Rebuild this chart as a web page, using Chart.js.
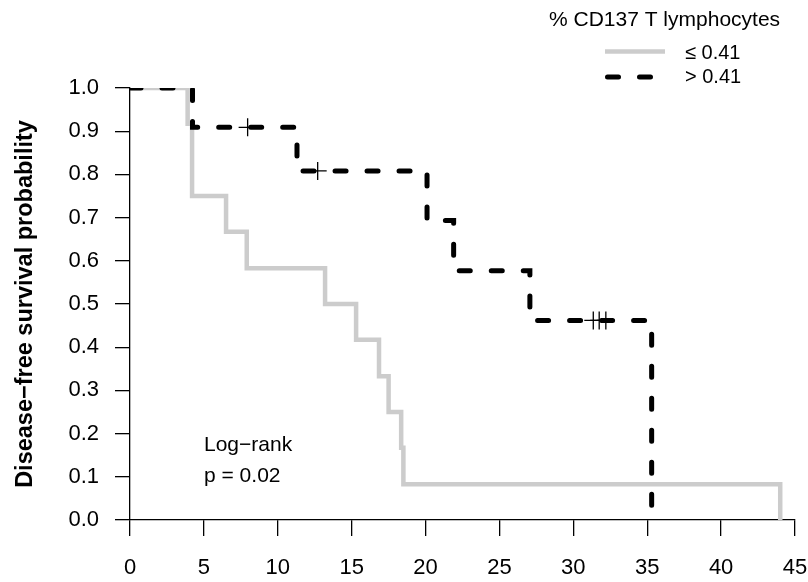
<!DOCTYPE html>
<html lang="en">
<head>
    <meta charset="UTF-8">
    <title>Disease-free survival by CD137 T lymphocytes</title>
    <script src="https://cdn.jsdelivr.net/npm/chart.js"></script>
    <style>
        html, body {
            margin: 0;
            padding: 0;
            background: #ffffff;
        }
        .wrap {
            width: 808px;
            height: 582px;
        }
    </style>
</head>
<body>
    <div class="wrap"><canvas id="kmChart"></canvas></div>

    <script>
        // step times (months) and survival after each step
        const lowTimes  = [0, 3.9, 4.2, 6.5, 7.9, 13.2, 15.3, 16.85, 17.5, 18.35, 18.5, 44.0];
        const lowSurv   = [1.0, 0.917, 0.75, 0.667, 0.583, 0.5, 0.417, 0.333, 0.25, 0.167, 0.083, 0.0];
        const highTimes = [0, 4.23, 11.3, 20.1, 21.9, 27.06, 35.3];
        const highSurv  = [1.0, 0.909, 0.808, 0.693, 0.577, 0.462, 0.0];

        // censored patients in the > 0.41 group
        const censorTimes = [7.96, 12.7, 31.35, 31.75, 32.2];
        const censorSurv  = [0.909, 0.808, 0.462, 0.462, 0.462];

        const xTicks = [0, 5, 10, 15, 20, 25, 30, 35, 40, 45];
        const yTicks = [0.0, 0.1, 0.2, 0.3, 0.4, 0.5, 0.6, 0.7, 0.8, 0.9, 1.0];

        const legendTitle = '% CD137 T lymphocytes';
        const groupLabels = ['\u2264 0.41', '> 0.41'];
        const testLines = ['Log\u2212rank', 'p = 0.02'];

        const FONT = '"Liberation Sans", Arial, Helvetica, sans-serif';
        const GREY = '#cccccc';

        const toPoints = (xs, ys) => xs.map((x, i) => ({ x: x, y: ys[i] }));

        // no extra room for edge labels, the plot box is fixed by layout padding
        const noPad = s => { s.paddingLeft = 0; s.paddingRight = 0; s.paddingTop = 0; s.paddingBottom = 0; };

        // legend block and log-rank note, R style
        const extras = {
            id: 'extras',
            afterDraw(chart) {
                const ctx = chart.ctx;
                ctx.save();
                ctx.fillStyle = '#000';
                ctx.textBaseline = 'middle';
                ctx.textAlign = 'left';
                ctx.font = '21px ' + FONT;
                ctx.fillText(legendTitle, 549, 20);

                ctx.lineWidth = 4.5;
                ctx.strokeStyle = GREY;
                ctx.beginPath();
                ctx.moveTo(605, 51.5);
                ctx.lineTo(665, 51.5);
                ctx.stroke();

                ctx.lineWidth = 5;
                ctx.lineCap = 'round';
                ctx.strokeStyle = '#000';
                ctx.setLineDash([11, 21]);
                ctx.beginPath();
                ctx.moveTo(607.5, 77);
                ctx.lineTo(650.5, 77);
                ctx.stroke();
                ctx.setLineDash([]);

                ctx.font = '20px ' + FONT;
                ctx.fillText(groupLabels[0], 685, 53.5);
                ctx.fillText(groupLabels[1], 685, 77.5);

                ctx.font = '21px ' + FONT;
                ctx.fillText(testLines[0], 204, 445);
                ctx.fillText(testLines[1], 204, 476.5);
                ctx.restore();
            }
        };

        new Chart(document.getElementById('kmChart'), {
            type: 'line',
            data: {
                datasets: [
                    {
                        label: groupLabels[1],
                        data: toPoints(highTimes, highSurv),
                        stepped: true,
                        borderColor: '#000',
                        borderWidth: 5,
                        borderDash: [11, 21],
                        borderCapStyle: 'round',
                        pointRadius: 0,
                        fill: false,
                        order: 0
                    },
                    {
                        label: 'censored',
                        data: toPoints(censorTimes, censorSurv),
                        showLine: false,
                        pointStyle: 'cross',
                        pointRadius: 9,
                        borderColor: '#000',
                        borderWidth: 1.3,
                        order: 0
                    },
                    {
                        label: groupLabels[0],
                        data: toPoints(lowTimes, lowSurv),
                        stepped: true,
                        borderColor: GREY,
                        borderWidth: 4.5,
                        pointRadius: 0,
                        fill: false,
                        order: 1
                    }
                ]
            },
            options: {
                responsive: true,
                maintainAspectRatio: false,
                animation: false,
                layout: { padding: { top: 88, right: 13, left: 0, bottom: 0 } },
                plugins: {
                    legend: { display: false },
                    tooltip: { enabled: false }
                },
                scales: {
                    x: {
                        type: 'linear',
                        min: 0,
                        max: 45,
                        afterBuildTicks: s => { s.ticks = xTicks.map(v => ({ value: v })); },
                        afterFit: s => { s.height = 62; noPad(s); },
                        grid: { drawOnChartArea: false, tickLength: 16, color: '#000', lineWidth: 1.3 },
                        border: { display: true, color: '#000', width: 1.3 },
                        ticks: {
                            color: '#000',
                            font: { size: 22, family: FONT },
                            padding: 19,
                            maxRotation: 0,
                            autoSkip: false
                        }
                    },
                    y: {
                        type: 'linear',
                        min: 0,
                        max: 1,
                        afterBuildTicks: s => { s.ticks = yTicks.map(v => ({ value: v })); },
                        afterFit: s => { s.width = 130; noPad(s); },
                        grid: { drawOnChartArea: false, tickLength: 15, color: '#000', lineWidth: 1.3 },
                        border: { display: true, color: '#000', width: 1.3 },
                        ticks: {
                            color: '#000',
                            font: { size: 22, family: FONT },
                            padding: 16,
                            autoSkip: false,
                            callback: v => Number(v).toFixed(1)
                        },
                        title: {
                            display: true,
                            text: 'Disease\u2212free survival probability',
                            color: '#000',
                            font: { size: 23.5, weight: 'bold', family: FONT },
                            padding: { top: 11, bottom: 0 }
                        }
                    }
                }
            },
            plugins: [extras]
        });
    </script>
</body>
</html>
